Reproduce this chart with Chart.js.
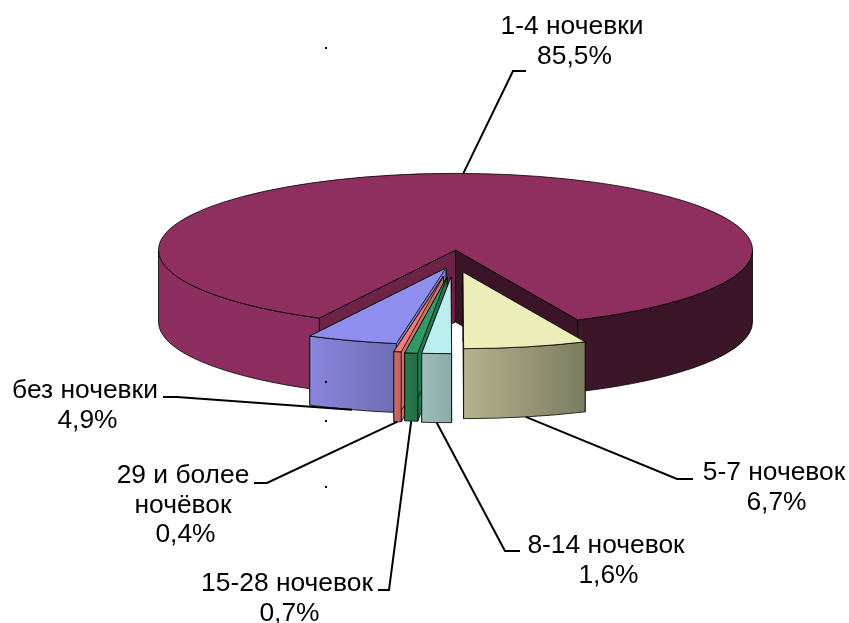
<!DOCTYPE html>
<html>
<head>
<meta charset="utf-8">
<style>
  html, body { margin: 0; background: #fff; }
  canvas { display: block; }
</style>
</head>
<body>
<canvas id="pie" width="849" height="623"></canvas>
<script src="https://cdn.jsdelivr.net/npm/chart.js@4"></script>
<script>
const categories = ['1-4 ночевки', '5-7 ночевок', '8-14 ночевок', '15-28 ночевок', '29 и более\nночёвок', 'без ночевки'];
const shares = [85.5, 6.7, 1.6, 0.7, 0.4, 4.9];

// back to front, so the exploded slices cover the big one
const drawOrder = [0, 5, 4, 3, 2, 1];

const topColors = ['#8f2f5f', '#eeeebb', '#bbeeee', '#2f9a68', '#ef7f78', '#8f8fef'];
const startFaceColors = ['#6d2347', '#8f8f70', '#8aa9a8', '#24784f', '#d07068', '#7f7fd0'];
const endFaceColors = ['#3c1428', '#8f8f70', '#8aa9a8', '#24784f', '#d07068', '#7f7fd0'];
const wallStops = [
  [[0, '#8d2e60'], [0.56, '#8a2d5e'], [0.561, '#4c1b36'], [0.75, '#3a1427'], [1, '#3a1427']],
  [[0, '#b4b38f'], [1, '#7c7c61']],
  [[0, '#9dbdbb'], [1, '#8cabaa']],
  [[0, '#2a7a50'], [1, '#236d47']],
  [[0, '#cf6a6a'], [1, '#bf6060']],
  [[0, '#8a86dd'], [1, '#6f6cb5']],
];

// explosion of each slice from the pie centre, px on screen
const sliceShift = [[0, -12], [7.5, 10], [-4.5, 15], [-8.5, 15], [-12, 14], [-9.5, 6]];
const sliceDepth = [72, 70, 69, 68, 70, 69];
const squash = 0.258;

// label centre, then the leader elbow and its end
const labelCenters = [[572, 27], [774, 473], [606, 546], [287, 584], [183, 476], [85, 391]];
const leaderElbows = [[[513, 71], [526, 71]], [[677, 479], [693, 479]], [[505, 551], [520, 551]], [[389, 590], [378, 590]], [[267, 483], [254, 483]], [[177, 397], [163, 397]]];
const lineHeight = 29.5;
const valueNudge = 2.5;
const strayDots = [[326, 48], [326, 382], [326, 421], [326, 487]];

function wallSpans(a, b) {
  // parts of an arc that face the viewer (canvas angles 0..PI, also one turn later)
  const spans = [];
  [0, 2 * Math.PI].forEach(function (turn) {
    const s = Math.max(a, turn);
    const e = Math.min(b, turn + Math.PI);
    if (e > s) spans.push([s, e]);
  });
  return spans;
}

const pie3d = {
  id: 'pie3d',
  beforeDatasetsDraw(chart) {
    const ctx = chart.ctx;
    const arcs = chart.getDatasetMeta(0).data;

    drawOrder.forEach(function (i) {
      const arc = arcs[i];
      const r = arc.outerRadius;
      const ry = r * squash;
      const depth = sliceDepth[i];
      const a = arc.startAngle;
      const b = arc.endAngle;

      ctx.save();
      ctx.translate(sliceShift[i][0], sliceShift[i][1]);
      ctx.lineWidth = 1;
      ctx.strokeStyle = 'rgba(0,0,0,0.8)';

      // cut faces
      [[a, startFaceColors[i]], [b, endFaceColors[i]]].forEach(function (face) {
        const ex = arc.x + r * Math.cos(face[0]);
        const ey = arc.y + ry * Math.sin(face[0]);
        ctx.beginPath();
        ctx.moveTo(arc.x, arc.y);
        ctx.lineTo(ex, ey);
        ctx.lineTo(ex, ey + depth);
        ctx.lineTo(arc.x, arc.y + depth);
        ctx.closePath();
        ctx.fillStyle = face[1];
        ctx.fill();
        ctx.stroke();
      });

      // outer wall
      const grad = ctx.createLinearGradient(
        i === 0 ? arc.x - r : arc.x + r * Math.min(Math.cos(a), Math.cos(b)), 0,
        i === 0 ? arc.x + r : arc.x + r * Math.max(Math.cos(a), Math.cos(b)), 0);
      wallStops[i].forEach(function (s) { grad.addColorStop(s[0], s[1]); });
      wallSpans(a, b).forEach(function (span) {
        ctx.beginPath();
        ctx.ellipse(arc.x, arc.y, r, ry, 0, span[0], span[1]);
        ctx.ellipse(arc.x, arc.y + depth, r, ry, 0, span[1], span[0], true);
        ctx.closePath();
        ctx.fillStyle = grad;
        ctx.fill();
        ctx.stroke();
      });

      // top, drawn by the library through a flattened context
      ctx.save();
      ctx.translate(arc.x, arc.y);
      ctx.scale(1, squash);
      ctx.translate(-arc.x, -arc.y);
      arc.draw(ctx);
      ctx.restore();

      ctx.beginPath();
      ctx.moveTo(arc.x, arc.y);
      ctx.ellipse(arc.x, arc.y, r, ry, 0, a, b);
      ctx.closePath();
      ctx.stroke();
      ctx.restore();
    });
    return false;
  },
  afterDraw(chart) {
    const ctx = chart.ctx;
    const arcs = chart.getDatasetMeta(0).data;

    ctx.save();
    ctx.fillStyle = '#000';
    strayDots.forEach(function (d) { ctx.fillRect(d[0] - 1, d[1] - 1, 2, 2); });

    categories.forEach(function (name, i) {
      const arc = arcs[i];
      const mid = (arc.startAngle + arc.endAngle) / 2;
      const front = Math.sin(mid) > 0;
      const x0 = arc.x + sliceShift[i][0] + arc.outerRadius * Math.cos(mid);
      const y0 = arc.y + sliceShift[i][1] + arc.outerRadius * squash * Math.sin(mid) + (front ? sliceDepth[i] : 0);

      ctx.beginPath();
      ctx.moveTo(x0, y0);
      leaderElbows[i].forEach(function (p) { ctx.lineTo(p[0], p[1]); });
      ctx.lineWidth = 2;
      ctx.strokeStyle = '#000';
      ctx.stroke();

      const lines = name.split('\n');
      const value = String(shares[i]).replace('.', ',') + '%';
      ctx.font = '26.4px "Liberation Sans", Arial, sans-serif';
      ctx.textAlign = 'center';
      ctx.textBaseline = 'middle';
      lines.forEach(function (line, n) {
        ctx.fillText(line, labelCenters[i][0], labelCenters[i][1] + n * lineHeight);
      });
      ctx.fillText(value, labelCenters[i][0] + valueNudge, labelCenters[i][1] + lines.length * lineHeight);
    });
    ctx.restore();
  },
};

new Chart(document.getElementById('pie').getContext('2d'), {
  type: 'pie',
  data: {
    labels: categories,
    datasets: [{
      data: shares,
      backgroundColor: topColors,
      borderWidth: 0,
      radius: 297,
    }],
  },
  options: {
    responsive: false,
    animation: false,
    rotation: 207.3,
    layout: { padding: { left: 62, bottom: 99 } },
    plugins: {
      legend: { display: false },
      tooltip: { enabled: false },
    },
  },
  plugins: [pie3d],
});
</script>
</body>
</html>
